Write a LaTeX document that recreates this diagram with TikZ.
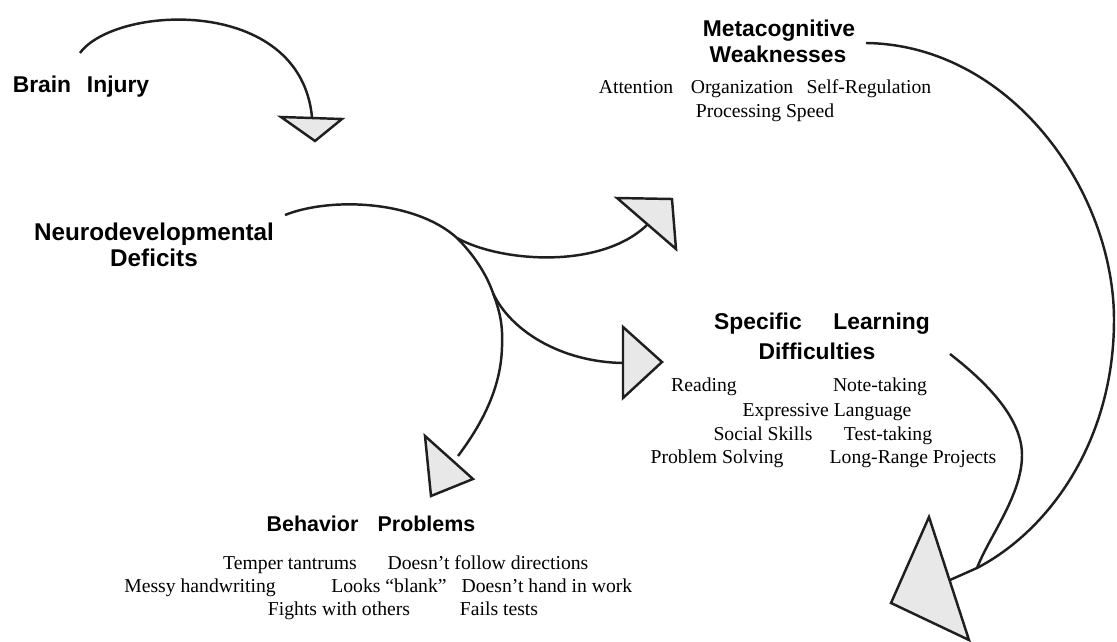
\documentclass[tikz,border=0pt]{standalone}
\usepackage{fontspec}
\setmainfont{Liberation Serif}
\setsansfont{Liberation Sans}

\begin{document}
\begin{tikzpicture}[
x=0.02cm,y=-0.02cm,
title/.style={font=\sffamily\bfseries\fontsize{13}{15}\selectfont,anchor=base,inner sep=0pt},
item/.style={font=\fontsize{11.2}{13}\selectfont,anchor=base,inner sep=0pt},
curve/.style={draw=black!88,line width=1.4pt},
head/.style={draw=black!88,fill=gray!18,line width=1.4pt,line join=miter}
]
\useasboundingbox (0,0) rectangle (1117,642);

% headings
\node[title] (brain) at (81,93) {Brain\hspace{9pt}Injury};
\node[title,font=\sffamily\bfseries\fontsize{13.8}{15}\selectfont] (neuro) at (154,240) {Neurodevelopmental};
\node[title,font=\sffamily\bfseries\fontsize{13.8}{15}\selectfont] (neuro2) at (154,267) {Deficits};
\node[title] (meta) at (779,37) {Metacognitive};
\node[title] (meta2) at (778,63) {Weaknesses};
\node[title] (spec) at (822,330) {Specific\hspace{18pt}Learning};
\node[title] (spec2) at (817,359) {Difficulties};
\node[title,font=\sffamily\bfseries\fontsize{12.2}{15}\selectfont] (behav) at (371,531) {Behavior\hspace{11pt}Problems};

% lists under the headings
\foreach \txt/\x/\y [count=\i] in {Attention/636/94,Organization/742/94,Self-Regulation/869/94,Processing Speed/765/118}
  \node[item] (meta-\i) at (\x,\y) {\txt};
\foreach \txt/\x/\y [count=\i] in {Reading/704/391,Note-taking/880/391,Expressive Language/827/417,
  Social Skills/763/440,Test-taking/888/440,Problem Solving/717/463,Long-Range Projects/913/463}
  \node[item] (spec-\i) at (\x,\y) {\txt};
\foreach \txt/\x/\y [count=\i] in {Temper tantrums/290/569,Doesn’t follow directions/488/569,
  Messy handwriting/200/592,Looks “blank”/389/592,Doesn’t hand in work/547/592,
  Fights with others/339/615,Fails tests/499/615}
  \node[item] (behav-\i) at (\x,\y) {\txt};

% curve ends
\coordinate (bi0) at (80,53);
\coordinate (bi1) at (312,117);
\coordinate (n0) at (285,215);
\coordinate (ns) at (457,238);
\coordinate (st) at (493,293);
\coordinate (nm) at (647,225);
\coordinate (nl) at (623,363);
\coordinate (nb) at (458,456);
\coordinate (m0) at (866,43);
\coordinate (s0) at (950,354);
\coordinate (jn) at (977,568);
\coordinate (jt) at (950,580);

\draw[curve] (bi0) .. controls (115,5) and (300,-5) .. (bi1);
\draw[curve] (n0) .. controls (330,197) and (415,200) .. (ns);
\draw[curve] (ns) .. controls (500,262) and (600,270) .. (nm);
\draw[curve] (ns) .. controls (473,254) and (486,273) .. (st);
\draw[curve] (st) .. controls (510,330) and (560,362) .. (nl);
\draw[curve] (st) .. controls (500,312) and (503,325) .. (502,347)
  .. controls (501,385) and (485,420) .. (nb);
\draw[curve] (m0) .. controls (1010,45) and (1114,190) .. (1114,320)
  .. controls (1114,440) and (1050,530) .. (jn);
\draw[curve] (s0) .. controls (990,385) and (1022,420) .. (1022,455)
  .. controls (1022,495) and (990,535) .. (jn) -- (jt);

% arrow heads
\draw[head] (281,117) -- (342,119) -- (315,141) -- cycle;
\draw[head] (617,198) -- (672,199) -- (676,249) -- cycle;
\draw[head] (623,327) -- (662,362) -- (623,398) -- cycle;
\draw[head] (425,436) -- (473,479) -- (431,496) -- cycle;
\draw[head] (929,517) -- (891,603) -- (969,640) -- cycle;
\end{tikzpicture}
\end{document}
